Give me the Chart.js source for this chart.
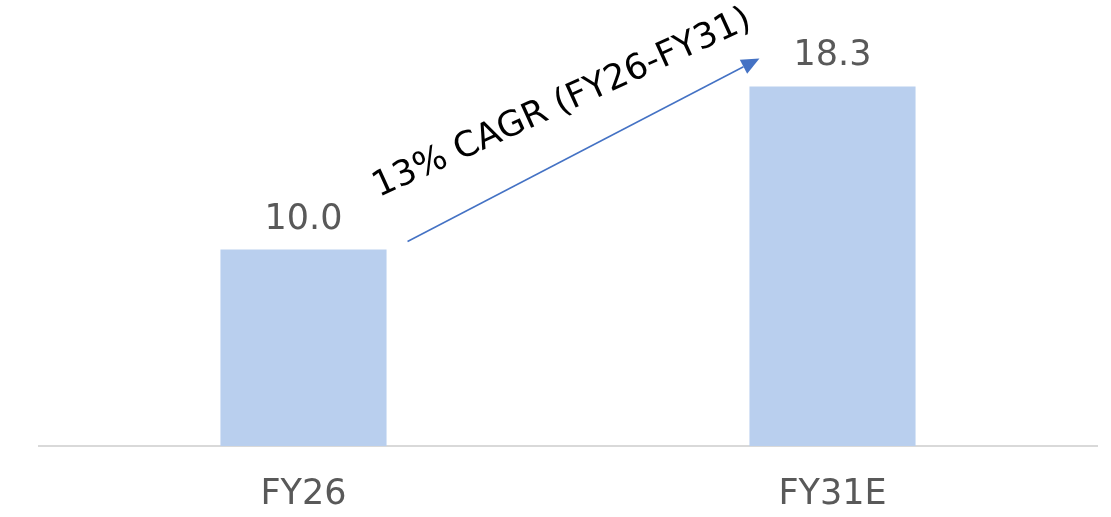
<!DOCTYPE html>
<html>
<head>
<meta charset="utf-8">
<script src="https://cdn.jsdelivr.net/npm/chart.js@4"></script>
<style>
html,body{margin:0;padding:0;background:#fff;}
#wrap{width:1111px;height:517px;}
</style>
</head>
<body>
<div id="wrap"><canvas id="c" width="1111" height="517"></canvas></div>
<script>
const categories = ["FY26", "FY31E"];
const values = [10.0, 18.3];
const valueLabels = ["10.0", "18.3"];
const cagrText = "13% CAGR (FY26-FY31)";

const FONT = "'DejaVu Sans', sans-serif";

const labelPlugin = {
  id: 'valueLabels',
  afterDatasetsDraw(chart) {
    const ctx = chart.ctx;
    const meta = chart.getDatasetMeta(0);
    ctx.save();
    ctx.font = "35px " + FONT;
    ctx.fillStyle = "#595959";
    ctx.textAlign = "center";
    ctx.textBaseline = "alphabetic";
    meta.data.forEach((bar, i) => {
      ctx.fillText(valueLabels[i], bar.x, bar.y - 21);
    });
    ctx.restore();
  }
};

const arrowPlugin = {
  id: 'cagrArrow',
  afterDatasetsDraw(chart) {
    const ctx = chart.ctx;
    const meta = chart.getDatasetMeta(0);
    const b0 = meta.data[0], b1 = meta.data[1];
    const x0 = b0.x + b0.width / 2 + 21, y0 = b0.y - 8;
    const x1 = b1.x - b1.width / 2 + 10, y1 = b1.y - 28;
    ctx.save();
    ctx.strokeStyle = "#4472C4";
    ctx.fillStyle = "#4472C4";
    ctx.lineWidth = 1.5;
    const ang = Math.atan2(y1 - y0, x1 - x0);
    const hl = 18, hw = 8;
    const bx = x1 - hl * Math.cos(ang), by = y1 - hl * Math.sin(ang);
    ctx.beginPath();
    ctx.moveTo(x0, y0);
    ctx.lineTo(bx, by);
    ctx.stroke();
    ctx.beginPath();
    ctx.moveTo(x1, y1);
    ctx.lineTo(bx + hw * Math.sin(ang), by - hw * Math.cos(ang));
    ctx.lineTo(bx - hw * Math.sin(ang), by + hw * Math.cos(ang));
    ctx.closePath();
    ctx.fill();
    // text
    const mx = (b0.x + b1.x) / 2 - 2;
    const my = (b0.y + b1.y) / 2 - 56;
    ctx.translate(mx, my);
    ctx.rotate(-24.5 * Math.PI / 180);
    ctx.font = "35px " + FONT;
    ctx.fillStyle = "#000000";
    ctx.textAlign = "center";
    ctx.textBaseline = "alphabetic";
    ctx.fillText(cagrText, 0, 0);
    ctx.restore();
  }
};

new Chart(document.getElementById('c'), {
  type: 'bar',
  data: {
    labels: categories,
    datasets: [{
      data: values,
      backgroundColor: "#B9CFEE",
      borderWidth: 0,
      barPercentage: 0.314,
      categoryPercentage: 1.0
    }]
  },
  options: {
    responsive: false,
    animation: false,
    layout: { padding: { left: 39, right: 14, top: 0, bottom: 0 } },
    plugins: { legend: { display: false }, tooltip: { enabled: false } },
    scales: {
      x: {
        afterFit(scale) { scale.height = 71; },
        grid: { display: false, drawTicks: false },
        border: { display: true, color: "#D9D9D9", width: 2 },
        ticks: { color: "#595959", font: { family: FONT, size: 35 }, padding: 28 }
      },
      y: {
        display: false,
        min: 0,
        max: 22.7
      }
    }
  },
  plugins: [labelPlugin, arrowPlugin]
});
</script>
</body>
</html>
